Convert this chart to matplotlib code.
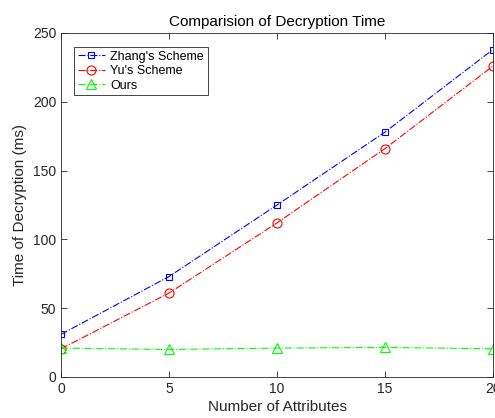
import matplotlib
matplotlib.use("Agg")
import matplotlib.pyplot as plt

# data
attrs   = [0, 5, 10, 15, 20]
zhang   = [31, 73, 125, 178, 238]
yu      = [20.5, 61, 112, 166, 226]
ours    = [21, 20, 21, 21.5, 20.5]
x_ticks = [0, 5, 10, 15, 20]
y_ticks = [0, 50, 100, 150, 200, 250]

plt.rcParams["font.family"] = ["Liberation Sans", "DejaVu Sans"]
AX_COL = "#262626"

fig = plt.figure(figsize=(4.95, 4.18), dpi=100)
ax = fig.add_axes([61 / 495, 41 / 418, 432 / 495, 344 / 418])

ax.plot(attrs, zhang, color="blue", ls="-.", lw=0.8, marker="s", ms=5,
        mfc="none", mew=0.8, label="Zhang's Scheme")
ax.plot(attrs, yu, color="red", ls="-.", lw=0.8, marker="o", ms=6.5,
        mfc="none", mew=0.8, label="Yu's Scheme")
ax.plot(attrs, ours, color="lime", ls="-.", lw=0.8, marker="^", ms=7,
        mfc="none", mew=0.8, label="Ours")

ax.set_xlim(0, 20)
ax.set_ylim(0, 250)
ax.set_xticks(x_ticks)
ax.set_yticks(y_ticks)
ax.tick_params(direction="in", top=True, right=True, labelsize=10,
               colors=AX_COL, length=4, width=0.6)
for sp in ax.spines.values():
    sp.set_color(AX_COL)
    sp.set_linewidth(0.6)

ax.set_title("Comparision of Decryption Time", fontsize=11, color="black", pad=5)
ax.set_xlabel("Number of Attributes", fontsize=11, color=AX_COL, labelpad=3)
ax.set_ylabel("Time of Decryption (ms)", fontsize=11, color=AX_COL, labelpad=4)

leg = ax.legend(loc="upper left", bbox_to_anchor=(0.03, 0.96), fontsize=9,
                fancybox=False, framealpha=1, edgecolor=AX_COL,
                borderpad=0.3, labelspacing=0.2, handlelength=2.2,
                handletextpad=0.4, borderaxespad=0)
leg.get_frame().set_linewidth(0.6)

fig.savefig("out.png", dpi=100)
